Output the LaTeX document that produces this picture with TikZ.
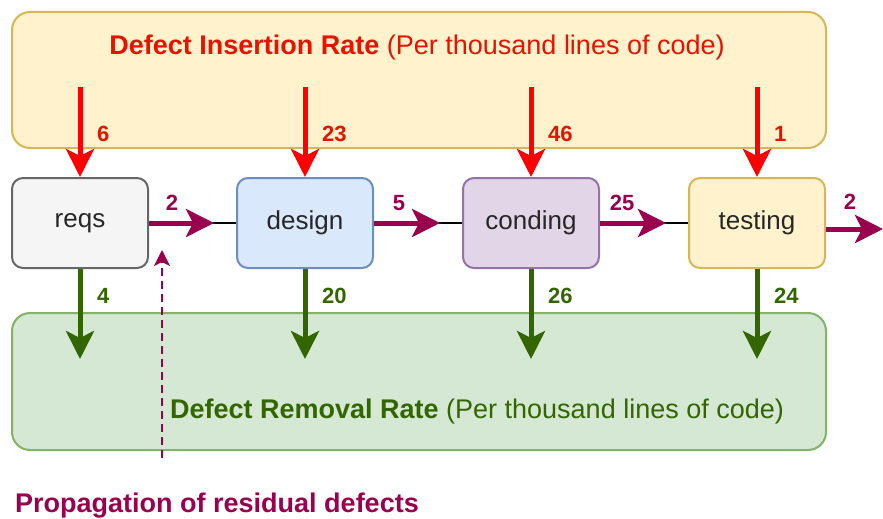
\documentclass[tikz,border=0pt]{standalone}
\usepackage{fontspec}
\setmainfont{Liberation Sans}
\usetikzlibrary{arrows.meta,calc}
\definecolor{insred}{HTML}{FF0000}
\definecolor{txtred}{HTML}{E51400}
\definecolor{remgreen}{HTML}{336600}
\definecolor{purp}{HTML}{99004D}
\definecolor{yfill}{HTML}{FFF2CC}
\definecolor{ydraw}{HTML}{D6B656}
\definecolor{gfill}{HTML}{D5E8D4}
\definecolor{gdraw}{HTML}{82B366}
\definecolor{bfill}{HTML}{DAE8FC}
\definecolor{bdraw}{HTML}{6C8EBF}
\definecolor{pfill}{HTML}{E1D5E7}
\definecolor{pdraw}{HTML}{9673A6}
\definecolor{wfill}{HTML}{F5F5F5}
\definecolor{wdraw}{HTML}{666666}
\tikzset{
  bigbox/.style={rounded corners=18pt, line width=2pt, minimum width=814pt, minimum height=136pt, inner sep=0pt},
  procbox/.style={rounded corners=11pt, line width=2pt, minimum width=136pt, minimum height=90pt, inner sep=0pt, font=\fontsize{26}{30}\selectfont, text=black!85},
  numlbl/.style={font=\bfseries\fontsize{22}{26}\selectfont, inner sep=0pt},
  fatarrow/.style={line width=5pt, -{Stealth[length=28pt,width=28pt,inset=7pt]}},
}
\begin{document}
\begin{tikzpicture}[x=1pt,y=-1pt]
\useasboundingbox (0,0) rectangle (883,519);
% big boxes
\node[bigbox, draw=ydraw, fill=yfill] (ins) at (419,80) {};
\node[bigbox, draw=gdraw, fill=gfill, minimum height=137pt] (rem) at (419,381.5) {};
\node[font=\fontsize{27}{31}\selectfont, text=txtred, inner sep=0pt] (institle) at (417,48) {\textbf{Defect Insertion Rate} (Per thousand lines of code)};
\node[font=\fontsize{27}{31}\selectfont, text=remgreen, inner sep=0pt] (remtitle) at (477,412) {\textbf{Defect Removal Rate} (Per thousand lines of code)};
% process boxes
\node[procbox, draw=wdraw, fill=wfill] (reqs) at (80,223) {reqs};
\node[procbox, draw=bdraw, fill=bfill] (design) at (305,223) {design};
\node[procbox, draw=pdraw, fill=pfill] (coding) at (531,223) {conding};
\node[procbox, draw=ydraw, fill=yfill] (testing) at (757,223) {testing};
% insertion arrows
\foreach \n/\v in {reqs/6,design/23,coding/46,testing/1}{
  \coordinate (s\n) at ($(\n.north)+(0,-90)$);
  \draw[fatarrow, insred] (s\n) -- (\n.north);
  \node[numlbl, text=txtred, anchor=west] at ($(\n.north)+(17,-43)$) {\v};
}
% removal arrows
\foreach \n/\v in {reqs/4,design/20,coding/26,testing/24}{
  \coordinate (e\n) at ($(\n.south)+(0,90)$);
  \draw[fatarrow, remgreen] (\n.south) -- (e\n);
  \node[numlbl, text=remgreen, anchor=west] at ($(\n.south)+(17,27)$) {\v};
}
% flow arrows
\foreach \a/\b/\v/\lx in {reqs/design/2/23,design/coding/5/25,coding/testing/25/22}{
  \draw[line width=1.5pt, black] (\a.east) -- (\b.west);
  \draw[fatarrow, purp, shorten >=22pt] (\a.east) -- (\b.west);
  \node[numlbl, text=purp] at ($(\a.east)+(\lx,-20)$) {\v};
}
\coordinate (out) at (883,229);
\draw[fatarrow, purp] (testing.east |- out) -- (out);
\node[numlbl, text=purp] at ($(testing.east)+(24,-21)$) {2};
% propagation
\node[font=\bfseries\fontsize{27}{31}\selectfont, text=purp, anchor=base west, inner sep=0pt] (prop) at (15,512) {Propagation of residual defects};
\coordinate (pstart) at (162,458);
\coordinate (pend) at (162,250);
\draw[purp, line width=2.5pt, dash pattern=on 8pt off 5pt, -{Stealth[length=16pt,width=16pt,inset=4pt]}] (pstart) -- (pend);
\end{tikzpicture}
\end{document}
